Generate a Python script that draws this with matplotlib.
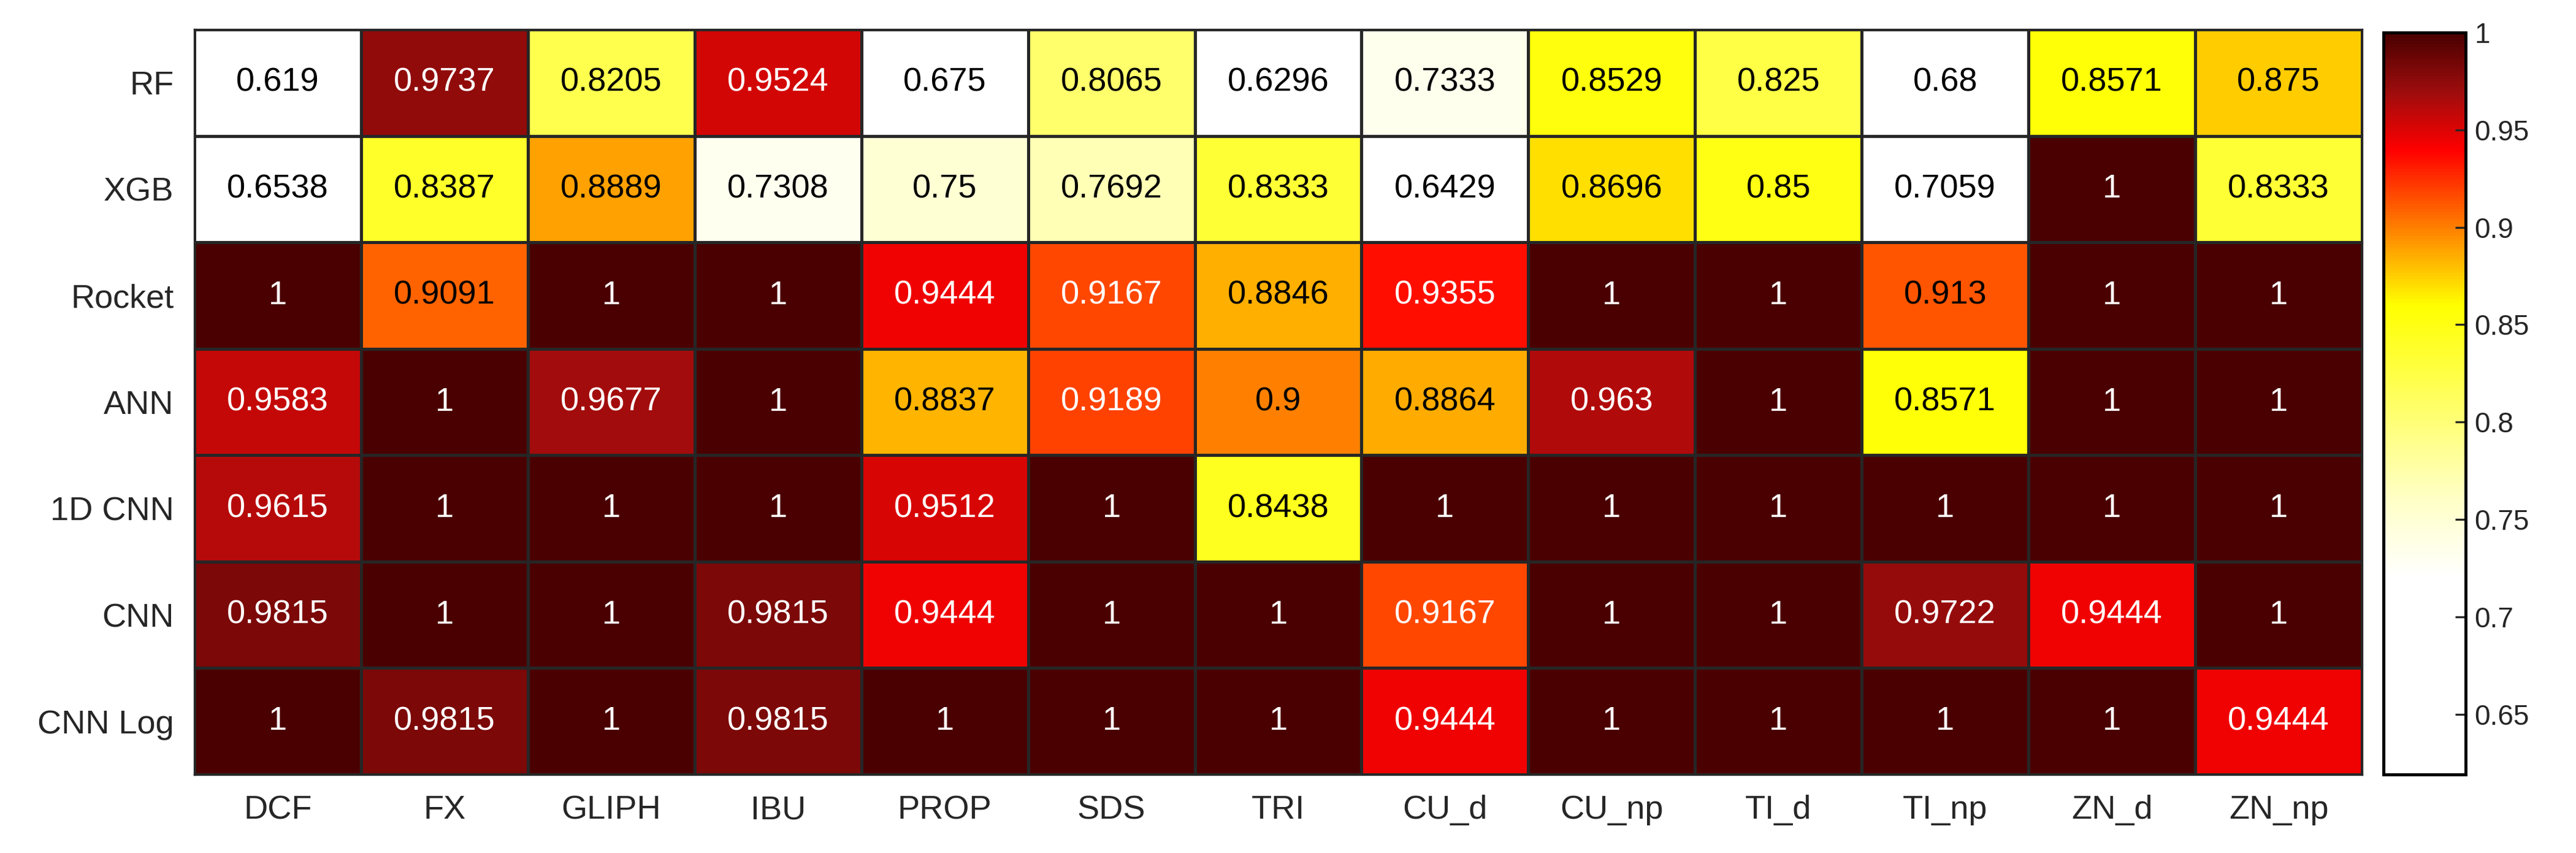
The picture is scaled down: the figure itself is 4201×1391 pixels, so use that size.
import numpy as np
import matplotlib.pyplot as plt
from matplotlib.colors import LinearSegmentedColormap

plt.rcParams['font.family'] = ['Liberation Sans', 'DejaVu Sans']

models = ["RF", "XGB", "Rocket", "ANN", "1D CNN", "CNN", "CNN Log"]
datasets = ["DCF", "FX", "GLIPH", "IBU", "PROP", "SDS", "TRI", "CU_d", "CU_np", "TI_d", "TI_np", "ZN_d", "ZN_np"]

rf = [0.619, 0.9737, 0.8205, 0.9524, 0.675, 0.8065, 0.6296, 0.7333, 0.8529, 0.825, 0.68, 0.8571, 0.875]
xgb = [0.6538, 0.8387, 0.8889, 0.7308, 0.75, 0.7692, 0.8333, 0.6429, 0.8696, 0.85, 0.7059, 1, 0.8333]
rocket = [1, 0.9091, 1, 1, 0.9444, 0.9167, 0.8846, 0.9355, 1, 1, 0.913, 1, 1]
ann = [0.9583, 1, 0.9677, 1, 0.8837, 0.9189, 0.9, 0.8864, 0.963, 1, 0.8571, 1, 1]
cnn1d = [0.9615, 1, 1, 1, 0.9512, 1, 0.8438, 1, 1, 1, 1, 1, 1]
cnn = [0.9815, 1, 1, 0.9815, 0.9444, 1, 1, 0.9167, 1, 1, 0.9722, 0.9444, 1]
cnn_log = [1, 0.9815, 1, 0.9815, 1, 1, 1, 0.9444, 1, 1, 1, 1, 0.9444]

data = np.array([rf, xgb, rocket, ann, cnn1d, cnn, cnn_log])
vmin, vmax = data.min(), 1.0

def pos(v):
    return (v - vmin) / (vmax - vmin)

cmap = LinearSegmentedColormap.from_list("heat", [
    (0.0, (1, 1, 1)),
    (pos(0.72), (1, 1, 1)),
    (pos(0.76), (1, 1, 0.78)),
    (pos(0.86), (1, 1, 0)),
    (pos(0.90), (1, 0.5, 0)),
    (pos(0.94), (1, 0, 0)),
    (pos(0.97), (0.62, 0.05, 0.05)),
    (1.0, (0.29, 0.0, 0.0)),
])

fig = plt.figure(figsize=(4201 / 300, 1391 / 300), dpi=300)
ax = fig.add_axes([317 / 4201, 1 - 1263 / 1391, (3852 - 317) / 4201, (1263 - 48) / 1391])
cax = fig.add_axes([3887 / 4201, 1 - 1263 / 1391, (4021 - 3887) / 4201, (1263 - 53) / 1391])

im = ax.pcolormesh(data, cmap=cmap, vmin=vmin, vmax=vmax, edgecolors="#262626", linewidth=0.8)
ax.set_xlim(0, len(datasets))
ax.set_ylim(len(models), 0)
ax.set_xticks(np.arange(len(datasets)) + 0.5)
ax.set_xticklabels(datasets, fontsize=13)
ax.set_yticks(np.arange(len(models)) + 0.5)
ax.set_yticklabels(models, fontsize=13)
ax.tick_params(length=0, pad=8, colors="#262626")
for s in ax.spines.values():
    s.set_color("#262626")

for i in range(data.shape[0]):
    for j in range(data.shape[1]):
        v = data[i, j]
        txt = "1" if v == 1 else f"{v:.4f}".rstrip("0")
        ax.text(j + 0.5, i + 0.5, txt, ha="center", va="center", fontsize=13,
                color="white" if v > 0.916 else "black")

cb = fig.colorbar(im, cax=cax)
cb.set_ticks([0.65, 0.7, 0.75, 0.8, 0.85, 0.9, 0.95, 1])
cb.set_ticklabels(["0.65", "0.7", "0.75", "0.8", "0.85", "0.9", "0.95", "1"])
cax.tick_params(labelsize=11, direction="in", length=4, colors="#262626")
cb.outline.set_linewidth(1.2)

fig.savefig("out.png", dpi=300)
